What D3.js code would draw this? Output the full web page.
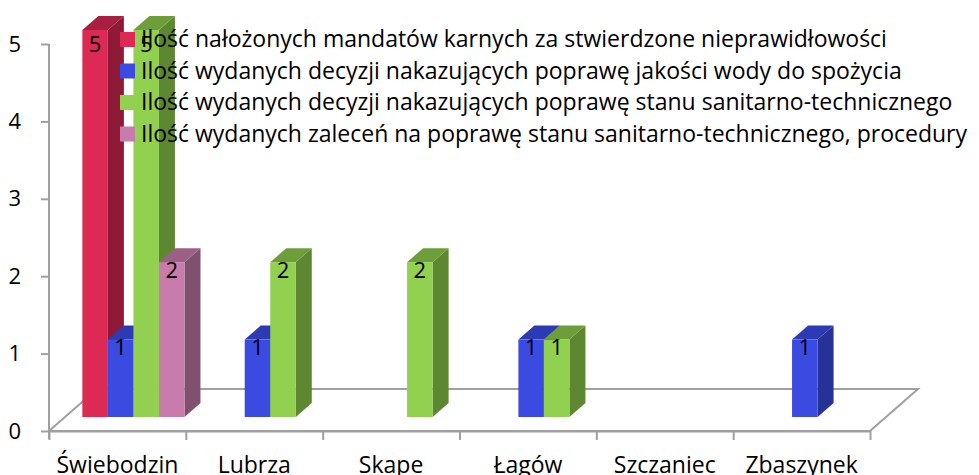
<!DOCTYPE html>
<html>
<head>
<meta charset="utf-8">
<script src="https://cdn.jsdelivr.net/npm/d3@7"></script>
<style>
  body { margin: 0; background: #fff; }
  text { font-family: "Open Sans", "Noto Sans", sans-serif; fill: #000; }
</style>
</head>
<body>
<svg id="chart"></svg>
<script>
// chart data
const categories = ["Świebodzin", "Lubrza", "Skape", "Łagów", "Szczaniec", "Zbaszynek"];
const seriesNames = [
    "Ilość nałożonych mandatów karnych za stwierdzone nieprawidłowości",
    "Ilość wydanych decyzji nakazujących poprawę jakości wody do spożycia",
    "Ilość wydanych decyzji nakazujących poprawę stanu sanitarno-technicznego",
    "Ilość wydanych zaleceń na poprawę stanu sanitarno-technicznego, procedury"
];
const mandaty = [5, 0, 0, 0, 0, 0];
const decyzjeWoda = [1, 1, 0, 1, 0, 1];
const decyzjeSanitarne = [5, 2, 2, 1, 0, 0];
const zalecenia = [2, 0, 0, 0, 0, 0];
const yTicks = [0, 1, 2, 3, 4, 5];

const seriesValues = [mandaty, decyzjeWoda, decyzjeSanitarne, zalecenia];
// front / side / top colours for each series
const colors = [
    { front: "#dc2a55", side: "#8e1a38", top: "#a81f44" },
    { front: "#3b4ae0", side: "#263296", top: "#2c3ab4" },
    { front: "#92d050", side: "#5e8732", top: "#6e9e3a" },
    { front: "#c97cac", side: "#805070", top: "#9b6086" }
];

const width = 979, height = 475;
const svg = d3.select("#chart").attr("width", width).attr("height", height);

// 3D depth of the floor (in px), bars sit in the middle third
const depth = { dx: 48, dy: -42 };
const barOff = { dx: depth.dx / 3, dy: depth.dy / 3 };

const x0 = d3.scaleBand().domain(categories).range([49, 870]);
const x1 = d3.scaleBand().domain(d3.range(seriesValues.length))
    .range([0, x0.bandwidth()]).paddingOuter(0.68);
const y = d3.scaleLinear().domain([0, 5]).range([431, 44]);
const xb = d3.scaleLinear().domain([0, categories.length]).range([49, 870]);

const grey = "#a0a0a0";
const fontSize = "22px";
const bigFont = "23px";

// floor outline
const floor = [
    [xb(0), y(0)], [xb(6), y(0)],
    [xb(6) + depth.dx, y(0) + depth.dy], [xb(0) + depth.dx, y(0) + depth.dy]
];
svg.append("path")
    .attr("d", d3.line()(floor) + "Z")
    .attr("fill", "none")
    .attr("stroke", grey)
    .attr("stroke-width", 2);

// y axis
const yAxis = svg.append("g")
    .attr("transform", "translate(49,0)")
    .call(d3.axisLeft(y).tickValues(yTicks).tickFormat(d3.format("d"))
        .tickSize(8).tickSizeOuter(0).tickPadding(20));
yAxis.select(".domain").attr("stroke", grey).attr("stroke-width", 2)
    .attr("d", `M0,${y(5)}V${y(0) + 8}`);
yAxis.selectAll(".tick line").attr("stroke", grey).attr("stroke-width", 2);
yAxis.selectAll(".tick text").style("font-size", fontSize).attr("fill", "#000");

// x axis: ticks at category boundaries
const xAxis = svg.append("g")
    .attr("transform", `translate(0,${y(0)})`)
    .call(d3.axisBottom(xb).ticks(6).tickSize(9).tickSizeOuter(0).tickFormat(""));
xAxis.select(".domain").attr("stroke", grey).attr("stroke-width", 2);
xAxis.selectAll(".tick line").attr("stroke", grey).attr("stroke-width", 2);

// category labels
svg.append("g").selectAll("text")
    .data(categories)
    .join("text")
    .attr("x", d => x0(d) + x0.bandwidth() / 2)
    .attr("y", 473)
    .attr("text-anchor", "middle")
    .style("font-size", bigFont)
    .text(d => d);

// bars, drawn left to right so the next front face hides the previous side
const bars = [];
categories.forEach((c, i) => {
    seriesValues.forEach((vals, s) => {
        if (vals[i] > 0) bars.push({ cat: c, s: s, v: vals[i] });
    });
});

const barW = x1.bandwidth();
const barG = svg.append("g");
bars.forEach(b => {
    const xl = x0(b.cat) + x1(b.s) + barOff.dx;
    const xr = xl + barW;
    const yt = y(b.v) + barOff.dy;
    const yb = y(0) + barOff.dy;
    const col = colors[b.s];
    const g = barG.append("g");
    // side
    g.append("path")
        .attr("d", d3.line()([[xr, yt], [xr + barOff.dx, yt + barOff.dy], [xr + barOff.dx, yb + barOff.dy], [xr, yb]]) + "Z")
        .attr("fill", col.side);
    // top
    g.append("path")
        .attr("d", d3.line()([[xl, yt], [xl + barOff.dx, yt + barOff.dy], [xr + barOff.dx, yt + barOff.dy], [xr, yt]]) + "Z")
        .attr("fill", col.top);
    // front
    g.append("rect")
        .attr("x", xl).attr("y", yt)
        .attr("width", barW).attr("height", yb - yt)
        .attr("fill", col.front);
});

// data labels
barG.selectAll("text.lbl")
    .data(bars)
    .join("text")
    .attr("class", "lbl")
    .attr("x", d => x0(d.cat) + x1(d.s) + barOff.dx + barW / 2)
    .attr("y", d => Math.max(y(d.v) + barOff.dy + 8, 44))
    .attr("dy", "0.35em")
    .attr("text-anchor", "middle")
    .style("font-size", fontSize)
    .text(d => d.v);

// legend
const legend = svg.append("g").attr("transform", "translate(120,39)");
const li = legend.selectAll("g")
    .data(seriesNames)
    .join("g")
    .attr("transform", (d, i) => `translate(0,${i * 31.5})`);
li.append("rect")
    .attr("x", 0).attr("y", -7)
    .attr("width", 15).attr("height", 15)
    .attr("fill", (d, i) => colors[i].front);
li.append("text")
    .attr("x", 21)
    .attr("dy", "0.35em")
    .style("font-size", bigFont)
    .text(d => d);
</script>
</body>
</html>
